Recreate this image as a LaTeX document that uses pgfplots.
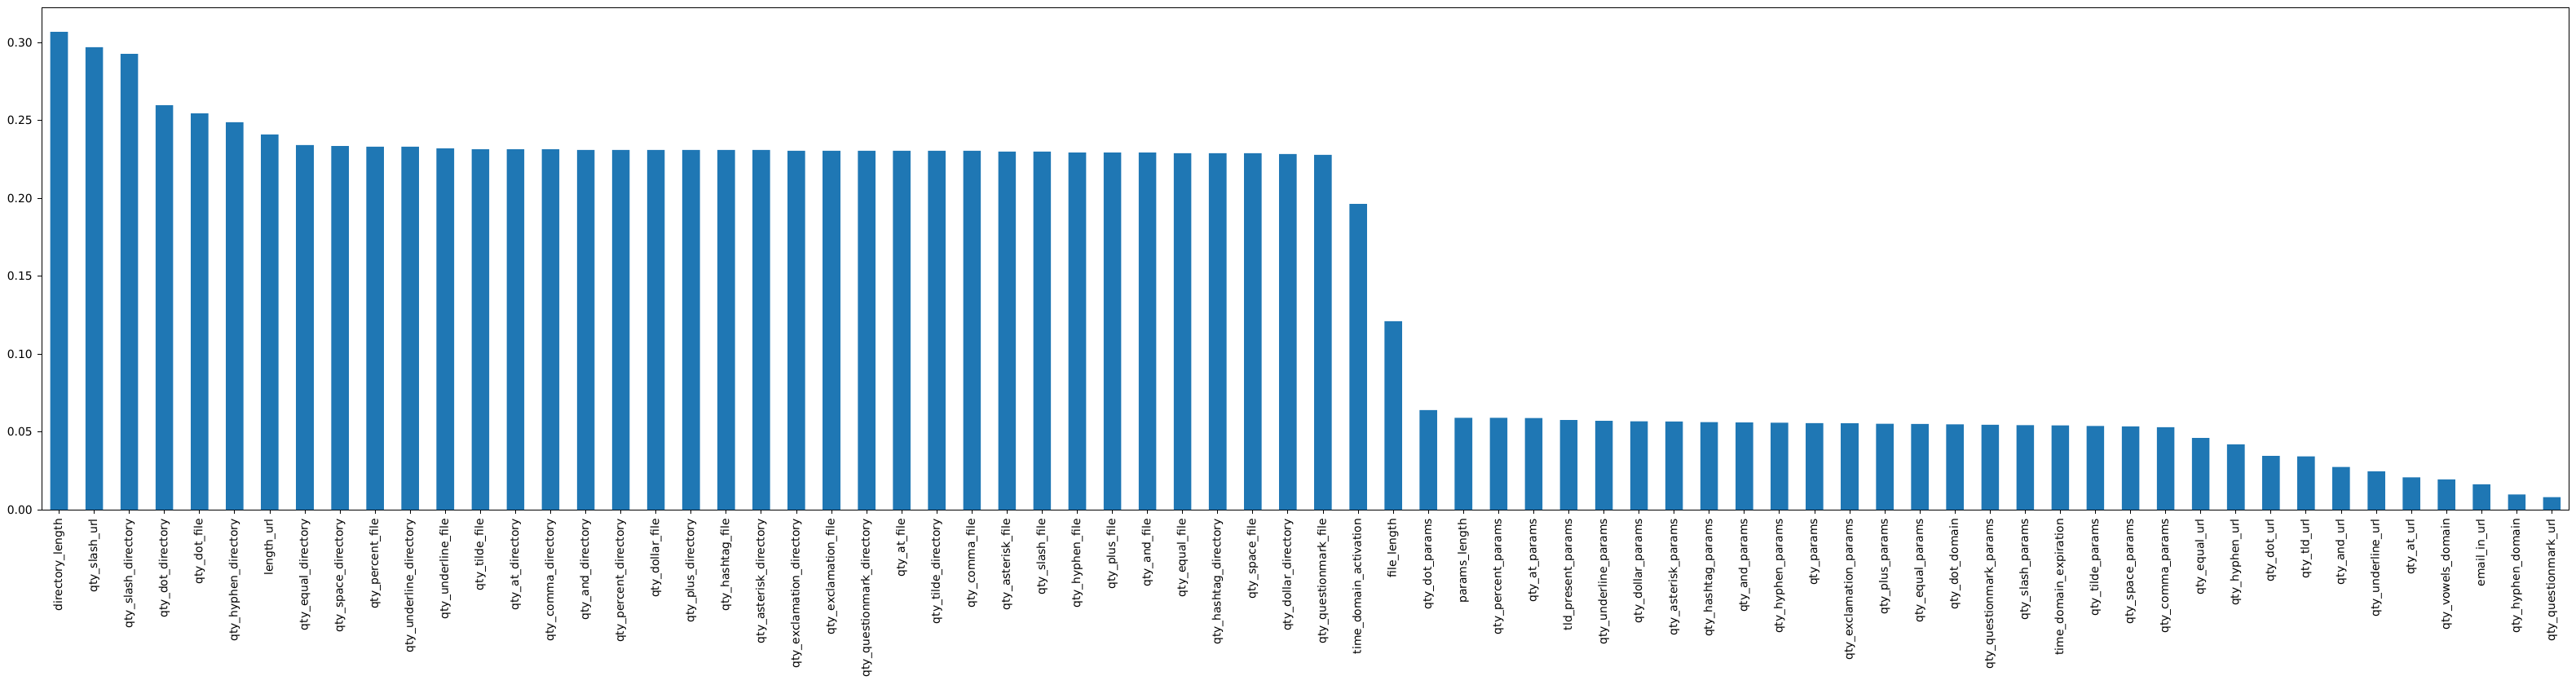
\documentclass[border=0pt]{standalone}
\usepackage{pgfplots}
\pgfplotsset{compat=1.18}
\usepackage{fontspec}
\setmainfont{DejaVu Sans}
\definecolor{mplblue}{HTML}{1F77B4}
\begin{document}
\begin{tikzpicture}
\begin{axis}[
  scale only axis,
  width=2232.7pt, height=443.3pt,
  at={(0,0)}, anchor=south west,
  xmin=-0.5, xmax=71.5, ymin=0, ymax=0.3225,
  axis line style={black, line width=0.6pt},
  xtick={0,...,71},
  xticklabels={directory\_length,qty\_slash\_url,qty\_slash\_directory,qty\_dot\_directory,qty\_dot\_file,qty\_hyphen\_directory,length\_url,qty\_equal\_directory,qty\_space\_directory,qty\_percent\_file,qty\_underline\_directory,qty\_underline\_file,qty\_tilde\_file,qty\_at\_directory,qty\_comma\_directory,qty\_and\_directory,qty\_percent\_directory,qty\_dollar\_file,qty\_plus\_directory,qty\_hashtag\_file,qty\_asterisk\_directory,qty\_exclamation\_directory,qty\_exclamation\_file,qty\_questionmark\_directory,qty\_at\_file,qty\_tilde\_directory,qty\_comma\_file,qty\_asterisk\_file,qty\_slash\_file,qty\_hyphen\_file,qty\_plus\_file,qty\_and\_file,qty\_equal\_file,qty\_hashtag\_directory,qty\_space\_file,qty\_dollar\_directory,qty\_questionmark\_file,time\_domain\_activation,file\_length,qty\_dot\_params,params\_length,qty\_percent\_params,qty\_at\_params,tld\_present\_params,qty\_underline\_params,qty\_dollar\_params,qty\_asterisk\_params,qty\_hashtag\_params,qty\_and\_params,qty\_hyphen\_params,qty\_params,qty\_exclamation\_params,qty\_plus\_params,qty\_equal\_params,qty\_dot\_domain,qty\_questionmark\_params,qty\_slash\_params,time\_domain\_expiration,qty\_tilde\_params,qty\_space\_params,qty\_comma\_params,qty\_equal\_url,qty\_hyphen\_url,qty\_dot\_url,qty\_tld\_url,qty\_and\_url,qty\_underline\_url,qty\_at\_url,qty\_vowels\_domain,email\_in\_url,qty\_hyphen\_domain,qty\_questionmark\_url},
  x tick label style={rotate=90, anchor=east, font=\fontsize{10}{12}\selectfont},
  ytick={0,0.05,0.10,0.15,0.20,0.25,0.30},
  y tick label style={font=\fontsize{10}{12}\selectfont},
  yticklabel style={/pgf/number format/.cd, fixed, fixed zerofill, precision=2, assume math mode=true},
  tick align=outside,
  major tick length=3.5pt,
  tick style={black, line width=0.6pt},
  xtick pos=bottom, ytick pos=left,
  xticklabel shift=1pt,
  yticklabel shift=1pt,
]
\addplot[ybar, bar width=0.5, fill=mplblue, draw=none] coordinates {
(0,0.3069) (1,0.2970) (2,0.2928) (3,0.2598) (4,0.2545) (5,0.2489) (6,0.2410)
(7,0.2342) (8,0.2336) (9,0.2331) (10,0.2331) (11,0.2321) (12,0.2315) (13,0.2315)
(14,0.2315) (15,0.2310) (16,0.2310) (17,0.2310) (18,0.2310) (19,0.2310) (20,0.2310)
(21,0.2305) (22,0.2305) (23,0.2305) (24,0.2305) (25,0.2305) (26,0.2305) (27,0.2300)
(28,0.2300) (29,0.2294) (30,0.2294) (31,0.2294) (32,0.2289) (33,0.2289) (34,0.2289)
(35,0.2284) (36,0.2279) (37,0.1964) (38,0.1210) (39,0.0640) (40,0.0590) (41,0.0590)
(42,0.0588) (43,0.0575) (44,0.0570) (45,0.0568) (46,0.0566) (47,0.0563) (48,0.0560)
(49,0.0558) (50,0.0556) (51,0.0554) (52,0.0552) (53,0.0550) (54,0.0548) (55,0.0545)
(56,0.0543) (57,0.0541) (58,0.0538) (59,0.0535) (60,0.0530) (61,0.0460) (62,0.0420)
(63,0.0345) (64,0.0343) (65,0.0275) (66,0.0245) (67,0.0208) (68,0.0195) (69,0.0163)
(70,0.0097) (71,0.0080)
};
\end{axis}
\path[use as bounding box] (-36.7pt,-154.8pt) rectangle (2238.5pt,450pt);
\end{tikzpicture}
\end{document}
